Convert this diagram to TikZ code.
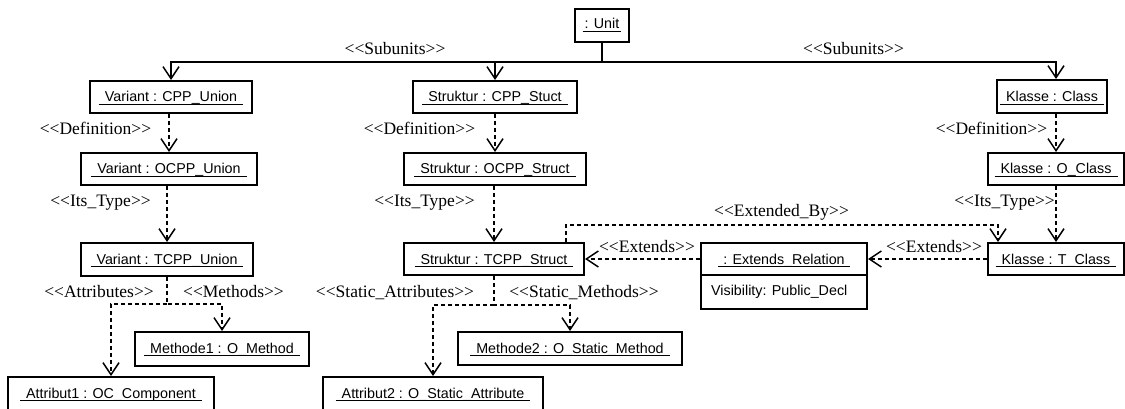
\documentclass[tikz,border=0pt]{standalone}
\usepackage{fontspec}
\setmainfont{Liberation Serif}
\setsansfont{Liberation Sans}
\usetikzlibrary{arrows.meta}

% underlined object name with a small overhang on both sides
\newcommand\ulname[2][6pt]{\setbox0=\hbox{\hspace{#1}#2\hspace{#1}}\rlap{\rule[-3pt]{\wd0}{1pt}}\box0}
% stereotype in double angle brackets (kerns keep << and >> from merging)
\newcommand\stereo[1]{<\kern0pt<#1>\kern0pt>}

\tikzset{
  obj/.style={draw, line width=2pt, inner sep=0pt},
  otext/.style={font=\sffamily\fontsize{14.3}{17}\selectfont, anchor=base, inner sep=0pt},
  lbl/.style={font=\fontsize{17.5}{21}\selectfont, anchor=base, inner sep=0pt},
  conn/.style={line width=2pt, -{Straight Barb[length=12pt,width=16pt,line width=1.5pt]}},
  dep/.style={conn, dash pattern=on 4pt off 3pt},
}

\begin{document}
\begin{tikzpicture}[x=1pt, y=-1pt]
\useasboundingbox[fill=white] (0,0) rectangle (1125,409);

% ---- object boxes
\node[obj, minimum width=54pt,  minimum height=33pt] (unit)  at (602,25.5) {};
\node[obj, minimum width=162pt, minimum height=32pt] (vcpp)  at (171,97) {};
\node[obj, minimum width=164pt, minimum height=32pt] (scpp)  at (495,97) {};
\node[obj, minimum width=110pt, minimum height=33pt] (kcls)  at (1052,96.5) {};
\node[obj, minimum width=176pt, minimum height=32pt] (vocpp) at (169,169) {};
\node[obj, minimum width=182pt, minimum height=32pt] (socpp) at (495,169) {};
\node[obj, minimum width=136pt, minimum height=32pt] (kocls) at (1056,169) {};
\node[obj, minimum width=172pt, minimum height=33pt] (vtcpp) at (167,259.5) {};
\node[obj, minimum width=180pt, minimum height=32pt] (stcpp) at (494,259) {};
\node[obj, minimum width=166pt, minimum height=66pt] (er)    at (784,276) {};
\node[obj, minimum width=136pt, minimum height=32pt] (ktcls) at (1056,259) {};
\node[obj, minimum width=174pt, minimum height=34pt] (meth1) at (222,349) {};
\node[obj, minimum width=224pt, minimum height=33pt] (meth2) at (570,348.5) {};
\node[obj, minimum width=206pt, minimum height=43pt] (attr1) at (111,398.5) {};
\node[obj, minimum width=220pt, minimum height=43pt] (attr2) at (433,398.5) {};
\draw[line width=2pt] (er.west |- 0,275) -- (er.east |- 0,275);

% ---- object names
\node[otext] (unit-t)  at (602,29) {\ulname[2pt]{: Unit}};
\node[otext] (vcpp-t)  at (171,102) {\ulname{Variant : CPP\_Union}};
\node[otext] (scpp-t)  at (495,102) {\ulname{Struktur : CPP\_Stuct}};
\node[otext] (kcls-t)  at (1052,102) {\ulname{Klasse : Class}};
\node[otext] (vocpp-t) at (169,174) {\ulname{Variant : OCPP\_Union}};
\node[otext] (socpp-t) at (495,174) {\ulname{Struktur : OCPP\_Struct}};
\node[otext] (kocls-t) at (1056,174) {\ulname{Klasse : O\_Class}};
\node[otext] (vtcpp-t) at (167,264) {\ulname{Variant : TCPP\_Union}};
\node[otext] (stcpp-t) at (494,264) {\ulname{Struktur : TCPP\_Struct}};
\node[otext] (er-t)    at (784,264) {\ulname[5pt]{: Extends\_Relation}};
\node[otext, anchor=base west] (er-v) at (711,295) {Visibility: Public\_Decl};
\node[otext] (ktcls-t) at (1056,264) {\ulname{Klasse : T\_Class}};
\node[otext] (meth1-t) at (222,353) {\ulname{Methode1 : O\_Method}};
\node[otext] (meth2-t) at (570,353) {\ulname{Methode2 : O\_Static\_Method}};
\node[otext] (attr1-t) at (111,398) {\ulname{Attribut1 : OC\_Component}};
\node[otext] (attr2-t) at (433,398) {\ulname{Attribut2 : O\_Static\_Attribute}};

% ---- composition of the unit
\coordinate (bus) at (602,62);
\draw[line width=2pt] (unit.south) -- (bus);
\draw[conn] (bus) -| (vcpp.north);
\draw[conn] (bus) -| (scpp.north);
\draw[conn] (bus) -| ([xshift=4pt]kcls.north);

% ---- union chain
\draw[dep] (vocpp.north |- vcpp.south) -- (vocpp.north);
\draw[dep] (vtcpp.north |- vocpp.south) -- (vtcpp.north);
\coordinate (vj) at (167,304);
\draw[dep] (vtcpp.south) -- (vj) -| (meth1.north);
\draw[dep] (vj) -| (attr1.north);

% ---- struct chain
\draw[dep] (scpp.south) -- (socpp.north);
\draw[dep] (stcpp.north |- socpp.south) -- (stcpp.north);
\coordinate (sj) at (494,305);
\draw[dep] (stcpp.south) -- (sj) -| (meth2.north);
\draw[dep] (sj) -| (attr2.north);

% ---- class chain
\draw[dep] (kocls.north |- kcls.south) -- (kocls.north);
\draw[dep] (kocls.south) -- (ktcls.north);

% ---- extension relation
\coordinate (eb1) at (566,225);
\coordinate (eb2) at (998,225);
\draw[dep] (stcpp.north -| eb1) -- (eb1) -- (eb2) -- (eb2 |- ktcls.north);
\draw[dep] (er.west |- stcpp.east) -- (stcpp.east);
\draw[dep] (ktcls.west) -- (ktcls.west -| er.east);

% ---- stereotype labels
\node[lbl] (l-sub1) at (395,55) {\stereo{Subunits}};
\node[lbl] (l-sub2) at (853.5,55) {\stereo{Subunits}};
\node[lbl] (l-def1) at (95.5,135) {\stereo{Definition}};
\node[lbl] (l-def2) at (419.5,135) {\stereo{Definition}};
\node[lbl] (l-def3) at (991.5,135) {\stereo{Definition}};
\node[lbl] (l-its1) at (100.5,207) {\stereo{Its\_Type}};
\node[lbl] (l-its2) at (424.5,207) {\stereo{Its\_Type}};
\node[lbl] (l-its3) at (1004.5,207) {\stereo{Its\_Type}};
\node[lbl] (l-att)  at (99,297) {\stereo{Attributes}};
\node[lbl] (l-met)  at (233.5,297) {\stereo{Methods}};
\node[lbl] (l-satt) at (395,297) {\stereo{Static\_Attributes}};
\node[lbl] (l-smet) at (584,297) {\stereo{Static\_Methods}};
\node[lbl] (l-extb) at (781.5,216) {\stereo{Extended\_By}};
\node[lbl] (l-ext1) at (647,252) {\stereo{Extends}};
\node[lbl] (l-ext2) at (934,252) {\stereo{Extends}};
\end{tikzpicture}
\end{document}
